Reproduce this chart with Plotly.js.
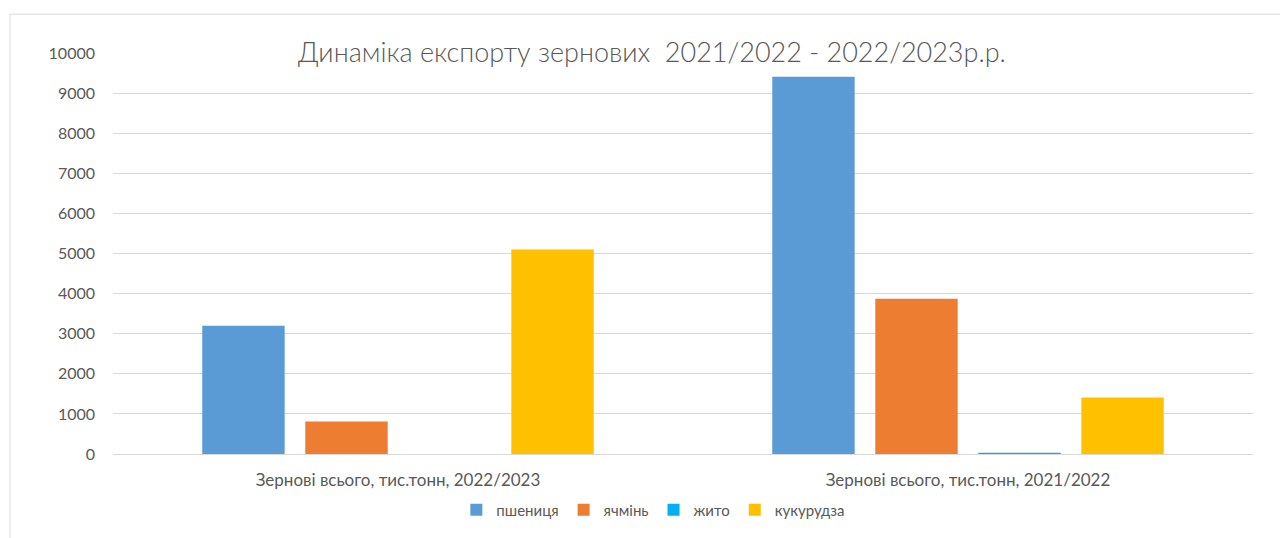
<!DOCTYPE html>
<html>
<head>
<meta charset="utf-8">
<script src="https://cdn.plot.ly/plotly-3.0.1.min.js"></script>
<style>html,body{margin:0;padding:0;background:#fff;}#chart{width:1280px;height:538px;}</style>
</head>
<body>
<div id="chart"></div>
<script>
const categories = ["Зернові всього, тис.тонн, 2022/2023", "Зернові всього, тис.тонн, 2021/2022"];
const seriesNames = ["пшениця", "ячмінь", "жито", "кукурудза"];
const wheat = [3200, 9410];
const barley = [810, 3870];
const rye = [0, 30];
const corn = [5100, 1410];
const colors = ["#5B9BD5", "#ED7D31", "#00B0F0", "#FFC000"];
const yTicks = [0, 1000, 2000, 3000, 4000, 5000, 6000, 7000, 8000, 9000, 10000];

const seriesValues = [wheat, barley, rye, corn];
const traces = seriesNames.map((name, i) => ({
  type: "bar",
  name: name,
  x: categories,
  y: seriesValues[i],
  marker: {color: colors[i]},
  hoverinfo: "y+name"
}));

const font = "Lato, 'Open Sans', sans-serif";
const gridColor = "#D9D9D9";
const layout = {
  width: 1280,
  height: 538,
  margin: {l: 113, r: 27, t: 53, b: 83},
  paper_bgcolor: "#fff",
  plot_bgcolor: "#fff",
  barmode: "group",
  bargap: 0.277,
  bargroupgap: 0.2,
  font: {family: font, color: "#595959", size: 15},
  title: {
    text: "Динаміка експорту зернових  2021/2022 - 2022/2023р.р.",
    font: {family: font, size: 27, color: "#595959", weight: 300},
    x: 652/1280, xanchor: "center", xref: "container",
    y: 1 - 53/538, yanchor: "middle", yref: "container"
  },
  xaxis: {
    type: "category",
    showgrid: false,
    showline: false,
    zeroline: false,
    ticks: "",
    tickfont: {family: font, size: 17, color: "#595959"},
    ticklabelstandoff: 14
  },
  yaxis: {
    range: [0, 10000],
    tickvals: yTicks,
    ticktext: yTicks.map(String),
    showgrid: true,
    gridcolor: gridColor,
    gridwidth: 1,
    zeroline: true,
    zerolinecolor: gridColor,
    zerolinewidth: 1,
    showline: false,
    ticks: "",
    tickfont: {family: font, size: 16, color: "#595959"},
    ticklabelstandoff: 17
  },
  legend: {
    orientation: "h",
    x: 0.474, xanchor: "center",
    y: -0.137, yanchor: "middle",
    font: {family: font, size: 15, color: "#595959"},
    itemwidth: 30,
    traceorder: "normal"
  },
  showlegend: true,
  shapes: [
    {type: "line", xref: "paper", yref: "paper", x0: -0.0904, x1: -0.0904, y0: 1.097, y1: -0.3, line: {color: gridColor, width: 1}},
    {type: "line", xref: "paper", yref: "paper", x0: -0.0904, x1: 1.03, y0: 1.097, y1: 1.097, line: {color: gridColor, width: 1}}
  ]
};

Plotly.newPlot("chart", traces, layout, {displayModeBar: false, staticPlot: true});
</script>
</body>
</html>
